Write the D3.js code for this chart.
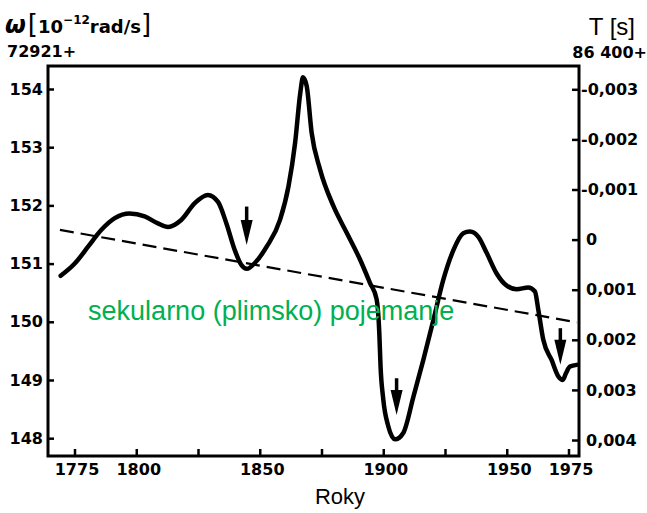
<!DOCTYPE html>
<html><head><meta charset="utf-8">
<script src="https://cdn.jsdelivr.net/npm/d3@7"></script>
<style>body{margin:0;background:#fff} svg{display:block}</style>
</head><body><svg id="c" width="647" height="513"></svg>
<script>
// ---- data ----
const years = [1769.4,1775.1,1780.5,1785.9,1791.3,1797.3,1803.4,1808.8,1812.9,1818.2,1823.7,1829.0,1833.1,1836.5,1839.9,1842.5,1844.8,1848.0,1852.8,1858.2,1861.6,1864.3,1866.4,1867.5,1869.0,1871.0,1874.4,1879.8,1885.2,1890.6,1894.6,1897.3,1898.4,1898.9,1900.0,1902.0,1904.8,1908.1,1912.2,1916.2,1920.3,1924.3,1928.4,1932.4,1935.1,1938.5,1941.9,1945.9,1950.0,1954.0,1958.7,1961.4,1962.8,1964.8,1968.2,1970.9,1972.7,1974.0,1975.6,1978.3];
const omega = [150.79,151.00,151.29,151.58,151.78,151.86,151.81,151.69,151.63,151.75,152.04,152.18,152.06,151.69,151.23,150.98,150.91,151.01,151.29,151.75,152.32,153.07,153.93,154.20,154.05,153.25,152.62,151.99,151.53,151.07,150.67,150.39,149.81,149.24,148.67,148.21,147.98,148.09,148.71,149.34,150.03,150.72,151.23,151.52,151.55,151.46,151.18,150.83,150.62,150.56,150.59,150.52,150.20,149.69,149.34,149.06,149.00,149.12,149.23,149.26];
const trendYears = [1769.1, 1978.4];
const trendOmega = [151.58, 149.99];
const arrowYears = [1844.7, 1905.4, 1971.7];
const arrowTop = [151.98, 149.03, 149.89];
const arrowTip = [151.32, 148.40, 149.26];
const xTicks = [1775,1800,1825,1850,1875,1900,1925,1950,1975];
const xLabels = [1775,1800,1850,1900,1950,1975];
const omegaTicks = [148,149,150,151,152,153,154];
const lodTicks = [-0.003,-0.002,-0.001,0,0.001,0.002,0.003,0.004];
const annotation = "sekularno (plimsko) pojemanje";
const annotationPos = [1780.5, 150.03];

// ---- layout ----
const L = 48, T = 66, R = 579, B = 456;
const svg = d3.select("#c");
const x = d3.scaleLinear().domain([1764.27, 1979.25]).range([L, R]);
const y = d3.scaleLinear().domain([147.694, 154.395]).range([B, T]);
const y2 = d3.scaleLinear().domain([-0.003465, 0.004319]).range([T, B]);
const tickFont = "'DejaVu Sans', sans-serif";

// left axis
const gl = svg.append("g").attr("transform", `translate(${L},0)`)
  .call(d3.axisLeft(y).tickValues(omegaTicks).tickSize(-6).tickPadding(5).tickFormat(d3.format("d")));
// right axis
const fmtT = d => d === 0 ? "0" : d.toFixed(3).replace(".", ",");
const gr = svg.append("g").attr("transform", `translate(${R},0)`)
  .call(d3.axisRight(y2).tickValues(lodTicks).tickSize(-7).tickPadding(7).tickFormat(fmtT));
gr.selectAll("text").attr("dx", d => d < 0 ? -5 : 0);
// bottom axis
const gb = svg.append("g").attr("transform", `translate(0,${B})`)
  .call(d3.axisBottom(x).tickValues(xTicks).tickSize(-7).tickPadding(8)
    .tickFormat(d => xLabels.includes(d) ? String(d) : ""));
gb.selectAll("text").attr("dx", 2);

[gl, gr, gb].forEach(g => {
  g.select(".domain").remove();
  g.selectAll("line").attr("stroke", "#000").attr("stroke-width", 2.5);
  g.selectAll("text").attr("fill", "#000").style("font-family", tickFont)
    .style("font-weight", "bold").style("font-size", "16px");
});

// frame
svg.append("rect").attr("x", L).attr("y", T).attr("width", R - L).attr("height", B - T)
  .attr("fill", "none").attr("stroke", "#000").attr("stroke-width", 3);

// trend (dashed)
const trend = trendYears.map((d, i) => [d, trendOmega[i]]);
svg.append("path").datum(trend)
  .attr("d", d3.line().x(d => x(d[0])).y(d => y(d[1])))
  .attr("fill", "none").attr("stroke", "#000").attr("stroke-width", 2.2)
  .attr("stroke-dasharray", "14,7");

// main curve
const pts = years.map((d, i) => [d, omega[i]]);
svg.append("path").datum(pts)
  .attr("d", d3.line().x(d => x(d[0])).y(d => y(d[1])).curve(d3.curveMonotoneX))
  .attr("fill", "none").attr("stroke", "#000").attr("stroke-width", 4.5)
  .attr("stroke-linejoin", "round").attr("stroke-linecap", "round");

// arrows
arrowYears.forEach((yr, i) => {
  const ax = x(yr), top = y(arrowTop[i]), tip = y(arrowTip[i]);
  const headLen = 25, headW = 6;
  svg.append("line").attr("x1", ax).attr("x2", ax).attr("y1", top).attr("y2", tip - headLen + 2)
    .attr("stroke", "#000").attr("stroke-width", 3.5);
  svg.append("path")
    .attr("d", `M${ax - headW},${tip - headLen} L${ax + headW},${tip - headLen} L${ax},${tip} Z`)
    .attr("fill", "#000");
});

// annotation
svg.append("text").attr("x", x(annotationPos[0])).attr("y", y(annotationPos[1]))
  .attr("fill", "#00b050").style("font-family", "'Liberation Sans', Arial, sans-serif")
  .style("font-size", "27px").text(annotation);

// titles
const tl = svg.append("text").attr("x", 5).attr("y", 33).attr("fill", "#000")
  .style("font-family", tickFont).style("font-weight", "bold");
tl.append("tspan").style("font-size", "24px").style("font-style", "italic").text("ω");
tl.append("tspan").attr("dx", 2).style("font-size", "26px").style("font-weight", "normal").text("[");
tl.append("tspan").style("font-size", "18px").text("10");
tl.append("tspan").attr("dy", -9).style("font-size", "12px").text("−12");
tl.append("tspan").attr("dy", 9).style("font-size", "18px").text("rad/s");
tl.append("tspan").style("font-size", "26px").style("font-weight", "normal").text("]");

svg.append("text").attr("x", 7).attr("y", 57).attr("fill", "#000")
  .style("font-family", tickFont).style("font-weight", "bold").style("font-size", "16px").text("72921+");

svg.append("text").attr("x", 635).attr("y", 35).attr("text-anchor", "end").attr("fill", "#000")
  .style("font-family", "'Liberation Sans', Arial, sans-serif").style("font-size", "24px").text("T [s]");

svg.append("text").attr("x", 647).attr("y", 58).attr("text-anchor", "end").attr("fill", "#000")
  .style("font-family", tickFont).style("font-weight", "bold").style("font-size", "16px").text("86 400+");

svg.append("text").attr("x", 340).attr("y", 504).attr("text-anchor", "middle").attr("fill", "#000")
  .style("font-family", "'Liberation Sans', Arial, sans-serif").style("font-size", "22px").text("Roky");
</script></body></html>
